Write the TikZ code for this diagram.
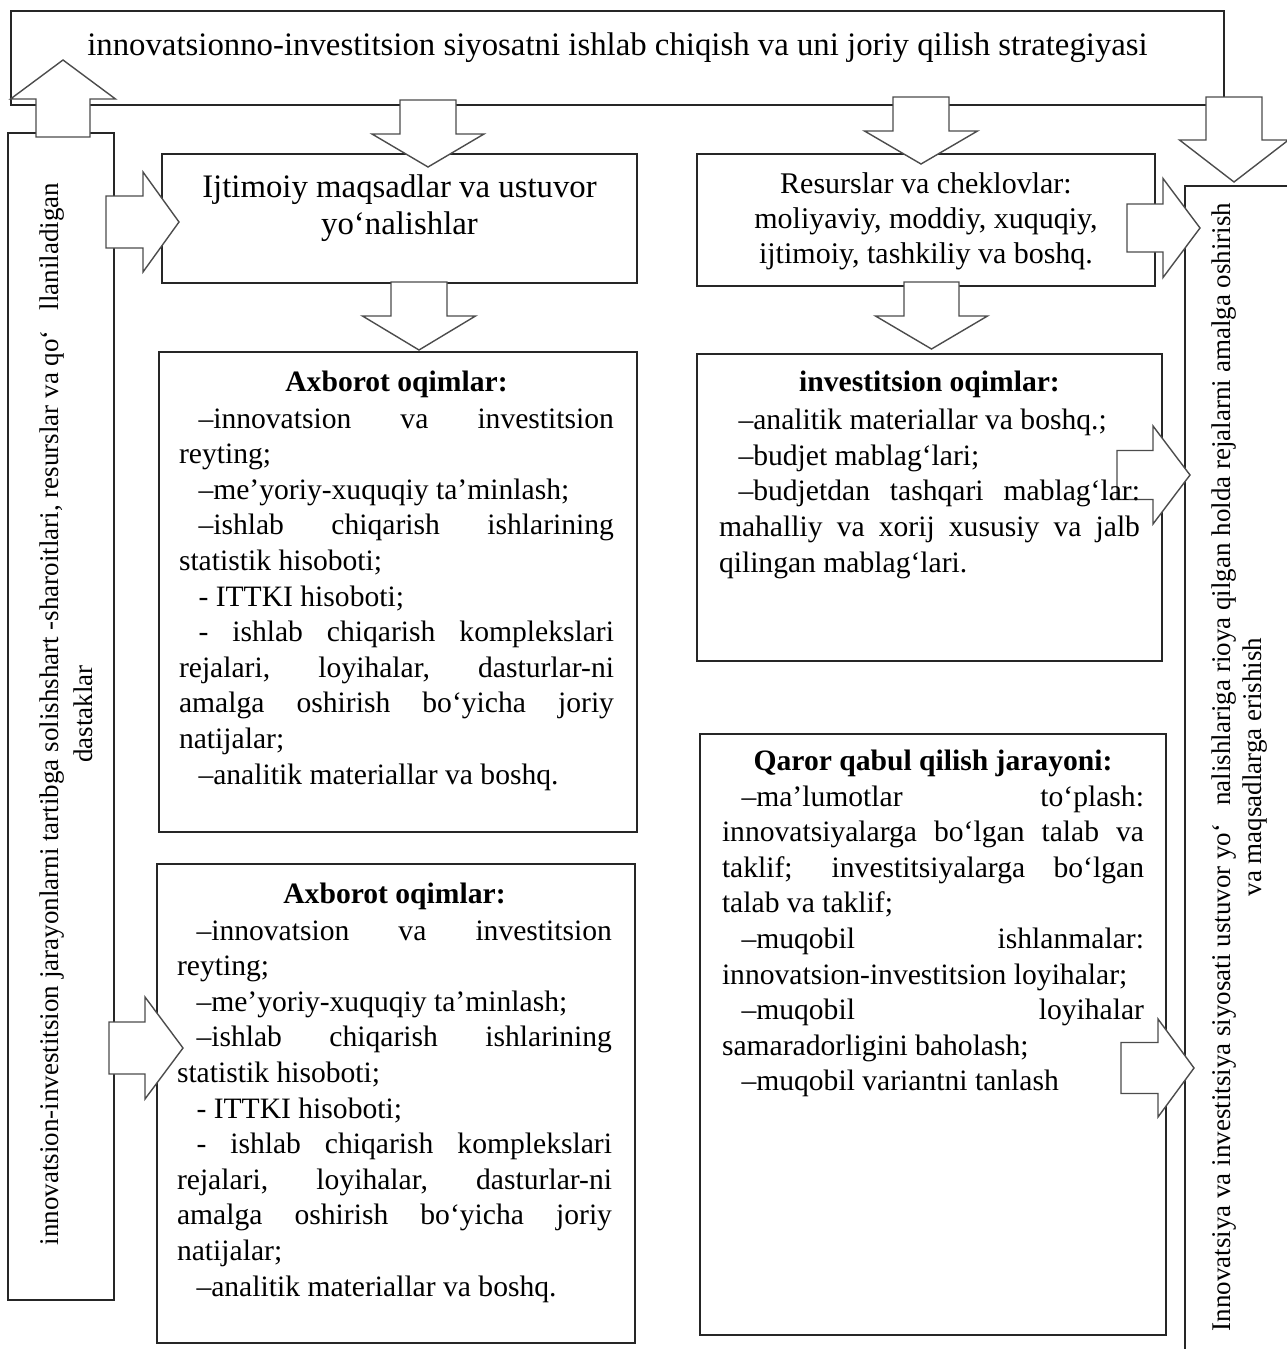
\documentclass[tikz,border=0pt]{standalone}
\usepackage{fontspec}
\setmainfont{Liberation Serif}
\newcommand\lnJ[1]{\hbox to \hsize{#1}}
\newcommand\lnL[1]{\hbox to \hsize{#1\hfil}}
\newcommand\lnC[1]{\hbox to \hsize{\hfil#1\hfil}}
\newcommand\dind{\hspace*{19.5pt}}
\newcommand\bodyfont{\fontsize{29.6}{35.6}\selectfont}
\newcommand\dnarr[6]{\draw[barrow] ({#1-#5},#2) -- ({#1+#5},#2) -- ({#1+#5},#3) -- ({#1+#6},#3) -- (#1,#4) -- ({#1-#6},#3) -- ({#1-#5},#3) -- cycle;}
\newcommand\rtarr[6]{\draw[barrow] (#2,{#1-#5}) -- (#3,{#1-#5}) -- (#3,{#1-#6}) -- (#4,#1) -- (#3,{#1+#6}) -- (#3,{#1+#5}) -- (#2,{#1+#5}) -- cycle;}
\tikzset{
  box/.style={draw=black!85, line width=1.5pt, inner sep=0pt, outer sep=0pt, anchor=north west},
  barrow/.style={draw=black!70, fill=white, line width=1.4pt, line join=miter},
  txt/.style={anchor=base west, inner sep=0pt, outer sep=0pt}
}
\begin{document}
\begin{tikzpicture}[x=1pt,y=-1pt]
\useasboundingbox (0,0) rectangle (1287,1349);
\clip (0,0) rectangle (1287,1349);
% boxes
\node[box, minimum width=1213pt, minimum height=94pt] (top) at (11,11) {};
\node[box, minimum width=106pt, minimum height=1167pt] (left) at (8,133) {};
\node[box, minimum width=475pt, minimum height=129pt] (ijt) at (162,154) {};
\node[box, minimum width=458pt, minimum height=132pt] (res) at (697,154) {};
\node[box, minimum width=478pt, minimum height=480pt] (ax1) at (159,352) {};
\node[box, minimum width=478pt, minimum height=479pt] (ax2) at (157,864) {};
\node[box, minimum width=465pt, minimum height=307pt] (inv) at (697,354) {};
\node[box, minimum width=466pt, minimum height=601pt] (qar) at (700,734) {};
\node[box, minimum width=130pt, minimum height=1180pt] (right) at (1185,186) {};
% block arrows
\dnarr{63}{137}{99}{60}{27}{52.5}
\dnarr{428}{100}{134}{167}{28}{56}
\dnarr{921}{97}{131}{164}{28}{56.5}
\dnarr{1234}{97}{140}{182}{28}{54.5}
\dnarr{419}{282}{316}{350}{28}{56.5}
\dnarr{931.5}{282}{316}{349}{27.5}{56}
\rtarr{222}{106}{143}{179}{26}{50}
\rtarr{1048}{109}{145}{183}{26}{51}
\rtarr{228}{1127}{1163}{1200}{24}{49.5}
\rtarr{475}{1117}{1153}{1190}{24.5}{49}
\rtarr{1068}{1121}{1158}{1194}{25.5}{49}
% texts
\node[anchor=base, inner sep=0pt, font=\fontsize{32.8}{38}\selectfont] (toptxt) at (617.5,55) {innovatsionno-investitsion siyosatni ishlab chiqish va uni joriy qilish strategiyasi};
\node[txt] (ijttxt) at (162,197) {\vtop{\hsize=475pt\fontsize{32.8}{37}\selectfont
\lnC{Ijtimoiy maqsadlar va ustuvor}
\lnC{yo‘nalishlar}}};
\node[txt] (restxt) at (697,193) {\vtop{\hsize=458pt\fontsize{30}{35}\selectfont
\lnC{Resurslar va cheklovlar:}
\lnC{moliyaviy, moddiy, xuquqiy,}
\lnC{ijtimoiy, tashkiliy va boshq.}}};
\node[txt] (ax1txt) at (179,391) {\vtop{\hsize=435pt\bodyfont
\lnC{\textbf{Axborot oqimlar:}}\vskip1.4pt
\lnJ{\dind–innovatsion va investitsion}
\lnL{reyting;}
\lnL{\dind–me’yoriy-xuquqiy ta’minlash;}
\lnJ{\dind–ishlab chiqarish ishlarining}
\lnL{statistik hisoboti;}
\lnL{\dind- ITTKI hisoboti;}
\lnJ{\dind- ishlab chiqarish komplekslari}
\lnJ{rejalari, loyihalar, dasturlar-ni}
\lnJ{amalga oshirish bo‘yicha joriy}
\lnL{natijalar;}
\lnL{\dind–analitik materiallar va boshq.}}};
\node[txt] (ax2txt) at (177,903) {\vtop{\hsize=435pt\bodyfont
\lnC{\textbf{Axborot oqimlar:}}\vskip1.4pt
\lnJ{\dind–innovatsion va investitsion}
\lnL{reyting;}
\lnL{\dind–me’yoriy-xuquqiy ta’minlash;}
\lnJ{\dind–ishlab chiqarish ishlarining}
\lnL{statistik hisoboti;}
\lnL{\dind- ITTKI hisoboti;}
\lnJ{\dind- ishlab chiqarish komplekslari}
\lnJ{rejalari, loyihalar, dasturlar-ni}
\lnJ{amalga oshirish bo‘yicha joriy}
\lnL{natijalar;}
\lnL{\dind–analitik materiallar va boshq.}}};
\node[txt] (invtxt) at (719,391) {\vtop{\hsize=421pt\bodyfont
\lnC{\textbf{investitsion oqimlar:}}\vskip3pt
\lnL{\dind–analitik materiallar va boshq.;}
\lnL{\dind–budjet mablag‘lari;}
\lnJ{\dind–budjetdan tashqari mablag‘lar:}
\lnJ{mahalliy va xorij xususiy va jalb}
\lnL{qilingan mablag‘lari.}}};
\node[txt] (qartxt) at (722,770) {\vtop{\hsize=422pt\bodyfont
\lnC{\textbf{Qaror qabul qilish jarayoni:}}\vskip0.4pt
\lnJ{\dind–ma’lumotlar to‘plash:}
\lnJ{innovatsiyalarga bo‘lgan talab va}
\lnJ{taklif; investitsiyalarga bo‘lgan}
\lnL{talab va taklif;}
\lnJ{\dind–muqobil ishlanmalar:}
\lnL{innovatsion-investitsion loyihalar;}
\lnJ{\dind–muqobil loyihalar}
\lnL{samaradorligini baholash;}
\lnL{\dind–muqobil variantni tanlash}}};
\node[rotate=90, align=center, inner sep=0pt, font=\fontsize{27}{34}\selectfont] (lefttxt) at (66,714) {innovatsion-investitsion jarayonlarni tartibga solishshart -sharoitlari, resurslar va qo‘\hspace{20pt}llaniladigan\\dastaklar};
\begin{scope}
\clip (1186,187) rectangle (1269,1349);
\node[rotate=90, align=center, inner sep=0pt, font=\fontsize{27}{31}\selectfont] (righttxt) at (1240,767) {Innovatsiya va investitsiya siyosati ustuvor yo‘\hspace{18pt}nalishlariga rioya qilgan holda rejalarni amalga oshirish\\va maqsadlarga erishish};
\end{scope}
\end{tikzpicture}
\end{document}
